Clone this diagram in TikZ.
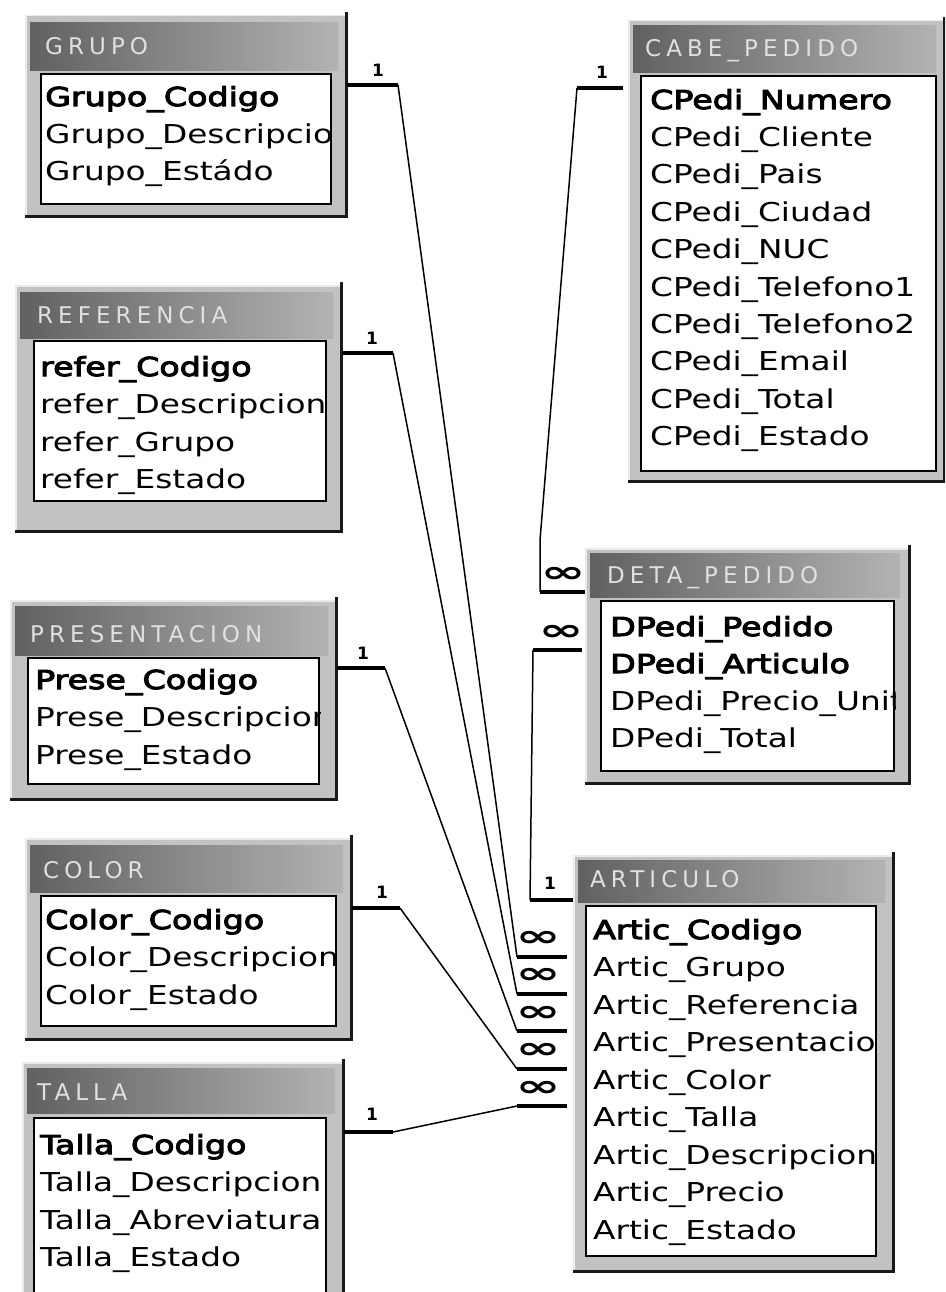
\documentclass[tikz,border=0pt]{standalone}
\usepackage{fontspec}
\usepackage{xcolor}
\setmainfont{DejaVu Sans}
\newfontfamily\rowfont[FakeStretch=1.26]{DejaVu Sans}
\newfontfamily\keyfont[FakeStretch=1.28, FakeBold=4]{DejaVu Sans}
\newfontfamily\headfont[LetterSpace=22]{DejaVu Sans}

\begin{document}
\begin{tikzpicture}[x=1pt, y=-1pt,
    tblframe/.style={anchor=north west, inner sep=0pt, fill=black!24, draw=black!8, line width=1.5pt},
    tblbar/.style={anchor=north west, inner sep=0pt, left color=black!62, right color=black!30},
    tblhead/.style={anchor=base west, inner sep=0pt, text=black!12, font=\headfont\fontsize{23}{23}\selectfont},
    tblbody/.style={anchor=north west, inner sep=0pt, fill=white, draw=black, line width=2pt},
    tblshade/.style={draw=black!90, line width=3pt},
    fld/.style={anchor=base west, inner sep=0pt, font=\rowfont\fontsize{26}{26}\selectfont},
    keyfld/.style={anchor=base west, inner sep=0pt, font=\keyfont\fontsize{26}{26}\selectfont},
    rel/.style={line width=1.5pt},
    relend/.style={line width=4.5pt},
    one/.style={inner sep=0pt, font=\bfseries\fontsize{17}{17}\selectfont},
    many/.style={inner sep=0pt, font=\bfseries\fontsize{30}{30}\selectfont}]
    \useasboundingbox (0,0) rectangle (945,1292);
    \clip (0,0) rectangle (945,1292);

    % GRUPO
    \node[tblframe, minimum width=320pt, minimum height=200pt] (grupo) at (25,15) {};
    \node[tblbar, minimum width=308pt, minimum height=48pt] (grupo-bar) at (30,22) {};
    \node[tblhead] (grupo-head) at (45,55) {GRUPO};
    \node[tblbody, minimum width=290pt, minimum height=130pt] (grupo-body) at (40,73) {};
    \begin{scope}
        \clip (grupo-body.north west) rectangle (grupo-body.south east);
        \node[keyfld] (grupo-1) at (45,106) {Grupo\_Codigo};
        \foreach \f [count=\i from 2] in {Grupo\_Descripcion, Grupo\_Estádo}
            \node[fld] (grupo-\i) at (45,{68.5+37.5*\i}) {\f};
    \end{scope}
    \draw[tblshade] ([yshift=3pt]grupo.north east) -- (grupo.south east) -- (grupo.south west);

    % REFERENCIA
    \node[tblframe, minimum width=325pt, minimum height=245pt] (refer) at (15,285) {};
    \node[tblbar, minimum width=313pt, minimum height=46pt] (refer-bar) at (20,292) {};
    \node[tblhead] (refer-head) at (37,323) {REFERENCIA};
    \node[tblbody, minimum width=292pt, minimum height=160pt] (refer-body) at (33,340) {};
    \begin{scope}
        \clip (refer-body.north west) rectangle (refer-body.south east);
        \node[keyfld] (refer-1) at (40,376) {refer\_Codigo};
        \foreach \f [count=\i from 2] in {refer\_Descripcion, refer\_Grupo, refer\_Estado}
            \node[fld] (refer-\i) at (40,{338.5+37.5*\i}) {\f};
    \end{scope}
    \draw[tblshade] ([yshift=3pt]refer.north east) -- (refer.south east) -- (refer.south west);

    % PRESENTACION
    \node[tblframe, minimum width=325pt, minimum height=198pt] (prese) at (10,600) {};
    \node[tblbar, minimum width=313pt, minimum height=49pt] (prese-bar) at (15,606) {};
    \node[tblhead] (prese-head) at (30,642) {PRESENTACION};
    \node[tblbody, minimum width=291pt, minimum height=126pt] (prese-body) at (27,657) {};
    \begin{scope}
        \clip (prese-body.north west) rectangle (prese-body.south east);
        \node[keyfld] (prese-1) at (35,689) {Prese\_Codigo};
        \foreach \f [count=\i from 2] in {Prese\_Descripcion, Prese\_Estado}
            \node[fld] (prese-\i) at (35,{651.5+37.5*\i}) {\f};
    \end{scope}
    \draw[tblshade] ([yshift=3pt]prese.north east) -- (prese.south east) -- (prese.south west);

    % COLOR
    \node[tblframe, minimum width=325pt, minimum height=200pt] (color) at (25,838) {};
    \node[tblbar, minimum width=313pt, minimum height=47pt] (color-bar) at (30,845) {};
    \node[tblhead] (color-head) at (43,878) {COLOR};
    \node[tblbody, minimum width=295pt, minimum height=130pt] (color-body) at (40,895) {};
    \begin{scope}
        \clip (color-body.north west) rectangle (color-body.south east);
        \node[keyfld] (color-1) at (45,929) {Color\_Codigo};
        \foreach \f [count=\i from 2] in {Color\_Descripcion, Color\_Estado}
            \node[fld] (color-\i) at (45,{891.5+37.5*\i}) {\f};
    \end{scope}
    \draw[tblshade] ([yshift=3pt]color.north east) -- (color.south east) -- (color.south west);

    % TALLA
    \node[tblframe, minimum width=320pt, minimum height=250pt] (talla) at (22,1062) {};
    \node[tblbar, minimum width=308pt, minimum height=45pt] (talla-bar) at (27,1068) {};
    \node[tblhead] (talla-head) at (37,1100) {TALLA};
    \node[tblbody, minimum width=292pt, minimum height=200pt] (talla-body) at (33,1117) {};
    \begin{scope}
        \clip (talla-body.north west) rectangle (talla-body.south east);
        \node[keyfld] (talla-1) at (40,1154) {Talla\_Codigo};
        \foreach \f [count=\i from 2] in {Talla\_Descripcion, Talla\_Abreviatura, Talla\_Estado}
            \node[fld] (talla-\i) at (40,{1116.5+37.5*\i}) {\f};
    \end{scope}
    \draw[tblshade] ([yshift=3pt]talla.north east) -- (talla.south east);

    % CABE_PEDIDO
    \node[tblframe, minimum width=315pt, minimum height=460pt] (cabe) at (628,20) {};
    \node[tblbar, minimum width=303pt, minimum height=47pt] (cabe-bar) at (633,25) {};
    \node[tblhead] (cabe-head) at (645,57) {CABE\_PEDIDO};
    \node[tblbody, minimum width=295pt, minimum height=395pt] (cabe-body) at (640,75) {};
    \begin{scope}
        \clip (cabe-body.north west) rectangle (cabe-body.south east);
        \node[keyfld] (cabe-1) at (650,109) {CPedi\_Numero};
        \foreach \f [count=\i from 2] in {CPedi\_Cliente, CPedi\_Pais, CPedi\_Ciudad, CPedi\_NUC,
            CPedi\_Telefono1, CPedi\_Telefono2, CPedi\_Email, CPedi\_Total, CPedi\_Estado}
            \node[fld] (cabe-\i) at (650,{71.6+37.4*\i}) {\f};
    \end{scope}
    \draw[tblshade] ([yshift=3pt]cabe.north east) -- (cabe.south east) -- (cabe.south west);

    % DETA_PEDIDO
    \node[tblframe, minimum width=323pt, minimum height=234pt] (deta) at (585,548) {};
    \node[tblbar, minimum width=310pt, minimum height=44pt] (deta-bar) at (590,553) {};
    \node[tblhead] (deta-head) at (607,583) {DETA\_PEDIDO};
    \node[tblbody, minimum width=293pt, minimum height=170pt] (deta-body) at (600,600) {};
    \begin{scope}
        \clip (deta-body.north west) rectangle (deta-body.south east);
        \node[keyfld] (deta-1) at (610,636) {DPedi\_Pedido};
        \node[keyfld] (deta-2) at (610,673) {DPedi\_Articulo};
        \node[fld] (deta-3) at (610,710) {DPedi\_Precio\_Unitario};
        \node[fld] (deta-4) at (610,747) {DPedi\_Total};
    \end{scope}
    \draw[tblshade] ([yshift=3pt]deta.north east) -- (deta.south east) -- (deta.south west);

    % ARTICULO
    \node[tblframe, minimum width=319pt, minimum height=415pt] (artic) at (573,855) {};
    \node[tblbar, minimum width=307pt, minimum height=42pt] (artic-bar) at (578,860) {};
    \node[tblhead] (artic-head) at (590,887) {ARTICULO};
    \node[tblbody, minimum width=290pt, minimum height=350pt] (artic-body) at (585,905) {};
    \begin{scope}
        \clip (artic-body.north west) rectangle (artic-body.south east);
        \node[keyfld] (artic-1) at (593,939) {Artic\_Codigo};
        \foreach \f [count=\i from 2] in {Artic\_Grupo, Artic\_Referencia, Artic\_Presentacion,
            Artic\_Color, Artic\_Talla, Artic\_Descripcion, Artic\_Precio, Artic\_Estado}
            \node[fld] (artic-\i) at (593,{901.5+37.5*\i}) {\f};
    \end{scope}
    \draw[tblshade] ([yshift=3pt]artic.north east) -- (artic.south east) -- (artic.south west);

    % Draw relations to ARTICULO
    \coordinate (g-knee) at (398,85);
    \coordinate (g-end) at (517,957);
    \draw[relend] (grupo.east |- g-knee) -- (g-knee);
    \draw[rel] (g-knee) -- (g-end);
    \draw[relend, shorten >=6pt] (g-end) -- (artic.west |- g-end);
    \node[one] (g-one) at (378,70) {1};
    \node[many] (g-many) at (538,939) {\scalebox{1.8}[1]{∞}};

    \coordinate (r-knee) at (393,353);
    \coordinate (r-end) at (517,994);
    \draw[relend] (refer.east |- r-knee) -- (r-knee);
    \draw[rel] (r-knee) -- (r-end);
    \draw[relend, shorten >=6pt] (r-end) -- (artic.west |- r-end);
    \node[one] (r-one) at (372,338) {1};
    \node[many] (r-many) at (538,976) {\scalebox{1.8}[1]{∞}};

    \coordinate (p-knee) at (385,668);
    \coordinate (p-end) at (517,1031);
    \draw[relend] (prese.east |- p-knee) -- (p-knee);
    \draw[rel] (p-knee) -- (p-end);
    \draw[relend, shorten >=6pt] (p-end) -- (artic.west |- p-end);
    \node[one] (p-one) at (363,653) {1};
    \node[many] (p-many) at (538,1014) {\scalebox{1.8}[1]{∞}};

    \coordinate (c-knee) at (400,908);
    \coordinate (c-end) at (517,1069);
    \draw[relend] (color.east |- c-knee) -- (c-knee);
    \draw[rel] (c-knee) -- (c-end);
    \draw[relend, shorten >=6pt] (c-end) -- (artic.west |- c-end);
    \node[one] (c-one) at (382,892) {1};
    \node[many] (c-many) at (538,1051) {\scalebox{1.8}[1]{∞}};

    \coordinate (t-knee) at (393,1132);
    \coordinate (t-end) at (517,1106);
    \draw[relend] (talla.east |- t-knee) -- (t-knee);
    \draw[rel] (t-knee) -- (t-end);
    \draw[relend, shorten >=6pt] (t-end) -- (artic.west |- t-end);
    \node[one] (t-one) at (372,1114) {1};
    \node[many] (t-many) at (538,1089) {\scalebox{1.8}[1]{∞}};

    % CABE_PEDIDO -> DETA_PEDIDO
    \coordinate (cp-knee) at (577,88);
    \coordinate (cp-bend) at (540,540);
    \coordinate (cp-end) at (540,592);
    \draw[relend, shorten <=5pt] (cabe.west |- cp-knee) -- (cp-knee);
    \draw[rel] (cp-knee) -- (cp-bend) -- (cp-end);
    \draw[relend] (cp-end) -- (deta.west |- cp-end);
    \node[one] (cp-one) at (602,72) {1};
    \node[many] (cp-many) at (563,575) {\scalebox{1.8}[1]{∞}};

    % DETA_PEDIDO -> ARTICULO
    \coordinate (da-start) at (533,650);
    \coordinate (da-end) at (530,900);
    \draw[relend, shorten >=3pt] (da-start) -- (deta.west |- da-start);
    \draw[rel] (da-start) -- (da-end);
    \draw[relend] (da-end) -- (artic.west |- da-end);
    \node[many] (da-many) at (561,633) {\scalebox{1.8}[1]{∞}};
    \node[one] (da-one) at (550,883) {1};
\end{tikzpicture}
\end{document}
